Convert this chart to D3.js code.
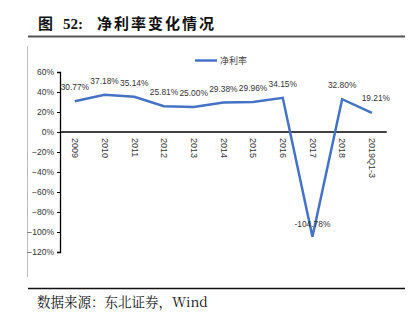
<!DOCTYPE html>
<html><head><meta charset="utf-8">
<script src="https://cdn.jsdelivr.net/npm/d3@7"></script>
<style>body{margin:0;background:#fff}svg{display:block}</style>
</head><body>
<svg id="c" width="420" height="321"></svg>
<script>
const categories = ["2009","2010","2011","2012","2013","2014","2015","2016","2017","2018","2019Q1-3"];
const netMargin = [30.77,37.18,35.14,25.81,25.00,29.38,29.96,34.15,-104.78,32.80,19.21];
const yTicks = [60,40,20,0,-20,-40,-60,-80,-100,-120];
const seriesName = "净利率";

const svg = d3.select("#c");
const plotL = 60, plotR = 386.7, plotT = 72, plotB = 252;

// title
svg.append("text").attr("x",38).attr("y",29).attr("font-size",15).attr("fill","#111")
  .attr("font-family","'Noto Sans CJK SC'").attr("font-weight","bold").text("图");
svg.append("text").attr("x",63).attr("y",29).attr("font-size",15).attr("fill","#111")
  .attr("font-family","'Liberation Serif'").attr("font-weight","bold").text("52:");
svg.append("text").attr("x",97).attr("y",29).attr("font-size",15).attr("fill","#111")
  .attr("font-family","'Noto Sans CJK SC'").attr("font-weight","bold").attr("letter-spacing",2).text("净利率变化情况");
svg.append("line").attr("x1",28).attr("x2",405).attr("y1",36.5).attr("y2",36.5).attr("stroke","#555").attr("stroke-width",2);
// left frame line
svg.append("line").attr("x1",27.5).attr("x2",27.5).attr("y1",46).attr("y2",277).attr("stroke","#bbb").attr("stroke-width",1);

const x = d3.scalePoint().domain(categories).range([plotL, plotR]).padding(0.5);
const y = d3.scaleLinear().domain([-120,60]).range([plotB, plotT]);

// y axis
const yAxis = d3.axisLeft(y).tickValues(yTicks).tickSize(3).tickFormat(d => (d < 0 ? "\u2212" + Math.abs(d) : d) + "%");
const ga = svg.append("g").attr("transform",`translate(${plotL},0)`).call(yAxis);
ga.select(".domain").attr("stroke","#000").attr("stroke-width",1.3);
ga.selectAll(".tick line").attr("stroke","#000");
ga.selectAll(".tick text").attr("font-family","'Liberation Sans', Arial").attr("font-size",8.5).attr("fill","#333").attr("x",-6);

// zero line
svg.append("line").attr("x1",plotL).attr("x2",plotR).attr("y1",y(0)).attr("y2",y(0)).attr("stroke","#000").attr("stroke-width",1.3);

// x labels rotated
const gx = svg.append("g").attr("transform",`translate(0,${y(0)})`).call(d3.axisBottom(x).tickSize(0));
gx.select(".domain").remove();
gx.selectAll(".tick text")
  .attr("font-family","'Liberation Sans', Arial").attr("font-size",9).attr("fill","#333")
  .attr("transform","rotate(90)").attr("text-anchor","start")
  .attr("x",6).attr("y",0).attr("dy","0.35em");

// line
const line = d3.line().x((d,i)=>x(categories[i])).y(d=>y(d));
svg.append("path").datum(netMargin).attr("d",line).attr("fill","none")
  .attr("stroke","#4472C4").attr("stroke-width",2.5).attr("stroke-linejoin","miter");

// data labels
svg.append("g").selectAll("text").data(netMargin).join("text")
  .attr("x",(d,i)=>x(categories[i]) + (i===10 ? 4 : 0))
  .attr("y",(d,i)=> y(d) - (i===8 ? 10 : (i===10 ? 12 : 11)))
  .attr("text-anchor","middle")
  .attr("font-family","'Liberation Sans', Arial").attr("font-size",8.4).attr("fill","#333")
  .text(d => d.toFixed(2) + "%");

// legend
svg.append("line").attr("x1",195).attr("x2",217).attr("y1",60.5).attr("y2",60.5).attr("stroke","#4472C4").attr("stroke-width",2.5);
svg.append("text").attr("x",220).attr("y",64).attr("font-family","'Noto Sans CJK SC'").attr("font-size",9).attr("fill","#444").text(seriesName);

// source
svg.append("line").attr("x1",28).attr("x2",405).attr("y1",288.5).attr("y2",288.5).attr("stroke","#111").attr("stroke-width",1.5);
svg.append("text").attr("x",37).attr("y",307).attr("font-family","'Noto Serif CJK SC','Noto Sans CJK SC'").attr("font-size",13.5).attr("fill","#111")
  .text("数据来源：东北证券，Wind");
</script>
</body></html>
